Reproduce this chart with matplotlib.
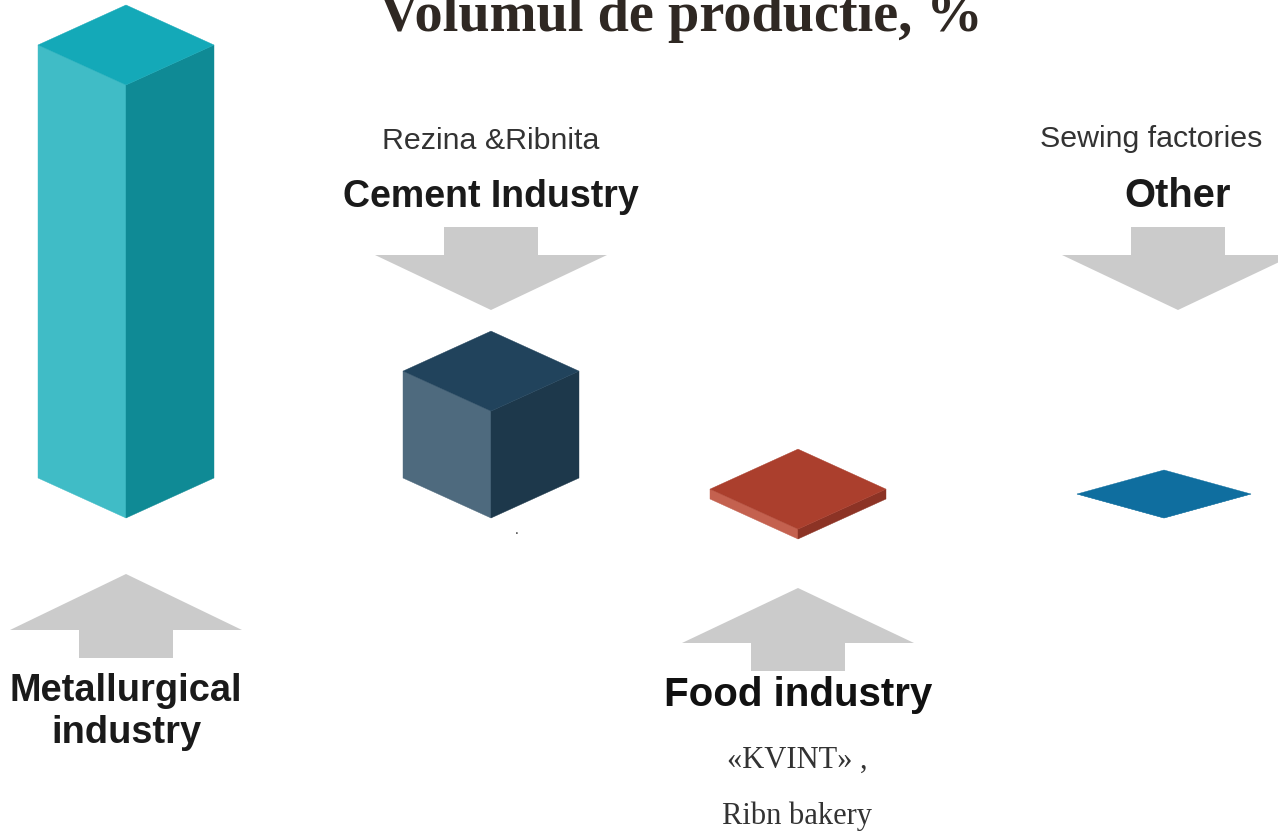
import matplotlib
matplotlib.use('Agg')
import matplotlib.pyplot as plt
from matplotlib.patches import Polygon

# Data
categories = ['Metallurgical\nindustry', 'Cement Industry', 'Food industry', 'Other']
companies = ['', 'Rezina &Ribnita', '«KVINT» ,\n\nRibn bakery', 'Sewing factories']
values = [79.0, 19.5, 1.8, 0.0]  # volume of production, %

# Colours: top, left face, right face
top_colors = ['#14a9b8', '#21435c', '#ab3f2d', '#0f6e9f']
left_colors = ['#40bcc6', '#4e6a7e', '#c4614f', '#0f6e9f']
right_colors = ['#0f8a95', '#1d384b', '#8c3325', '#0f6e9f']

# Layout in pixels
px_per_unit = 433 / 79.0
centers = [126, 491, 798, 1164]
bottoms = [518, 518, 539, 518]
half_w = [88, 88, 88, 87]
half_h = [40, 40, 40, 24]

fig = plt.figure(figsize=(12.78, 8.31), dpi=100)
ax = fig.add_axes([0, 0, 1, 1])
ax.set_xlim(0, 1278)
ax.set_ylim(831, 0)
ax.axis('off')


def iso_bar(cx, bottom, w, h, value, top_c, left_c, right_c):
    height = value * px_per_unit
    front = bottom - height
    ax.add_patch(Polygon([(cx - w, front - h), (cx, front), (cx, bottom), (cx - w, bottom - h)],
                         fc=left_c, ec=left_c, lw=0.3))
    ax.add_patch(Polygon([(cx + w, front - h), (cx, front), (cx, bottom), (cx + w, bottom - h)],
                         fc=right_c, ec=right_c, lw=0.3))
    ax.add_patch(Polygon([(cx, front - 2 * h), (cx + w, front - h), (cx, front), (cx - w, front - h)],
                         fc=top_c, ec=top_c, lw=0.3))


def arrow(cx, tip, head, stem_end):
    # block arrow pointing up or down, grey like the original
    ax.add_patch(Polygon([(cx, tip), (cx + 116, head), (cx + 47, head), (cx + 47, stem_end),
                          (cx - 47, stem_end), (cx - 47, head), (cx - 116, head)],
                         fc='#cbcbcb', ec='none'))


for i in range(len(values)):
    iso_bar(centers[i], bottoms[i], half_w[i], half_h[i], values[i],
            top_colors[i], left_colors[i], right_colors[i])

arrow(126, 574, 630, 658)
arrow(491, 310, 255, 227)
arrow(798, 588, 643, 671)
arrow(1178, 310, 255, 227)

# Title, cut off by the top edge like the reference
ax.text(681, 31, 'Volumul de productie, %', ha='center', va='baseline', fontsize=40.5,
        fontweight='bold', family='Liberation Serif', color='#2f2823')

sans = 'Liberation Sans'
ax.text(126, 712, categories[0], ha='center', va='center', fontsize=27.4, fontweight='bold',
        family=sans, color='#1a1a1a', linespacing=1.23)
ax.text(491, 197, categories[1], ha='center', va='center', fontsize=27, fontweight='bold',
        family=sans, color='#1a1a1a')
ax.text(798, 695, categories[2], ha='center', va='center', fontsize=29, fontweight='bold',
        family=sans, color='#111111')
ax.text(1178, 196, categories[3], ha='center', va='center', fontsize=28.8, fontweight='bold',
        family=sans, color='#1a1a1a')

ax.text(491, 141, companies[1], ha='center', va='center', fontsize=21.9, family=sans, color='#333333')
ax.text(1151, 139, companies[3], ha='center', va='center', fontsize=21.9, family=sans, color='#333333')
ax.text(797, 788, companies[2], ha='center', va='center', fontsize=22, family='Liberation Serif',
        color='#333333', linespacing=0.95)

# tiny speck under the cube
ax.text(517, 530, '.', ha='center', va='center', fontsize=10, family=sans, color='#333333')

fig.savefig('out.png', dpi=100)
